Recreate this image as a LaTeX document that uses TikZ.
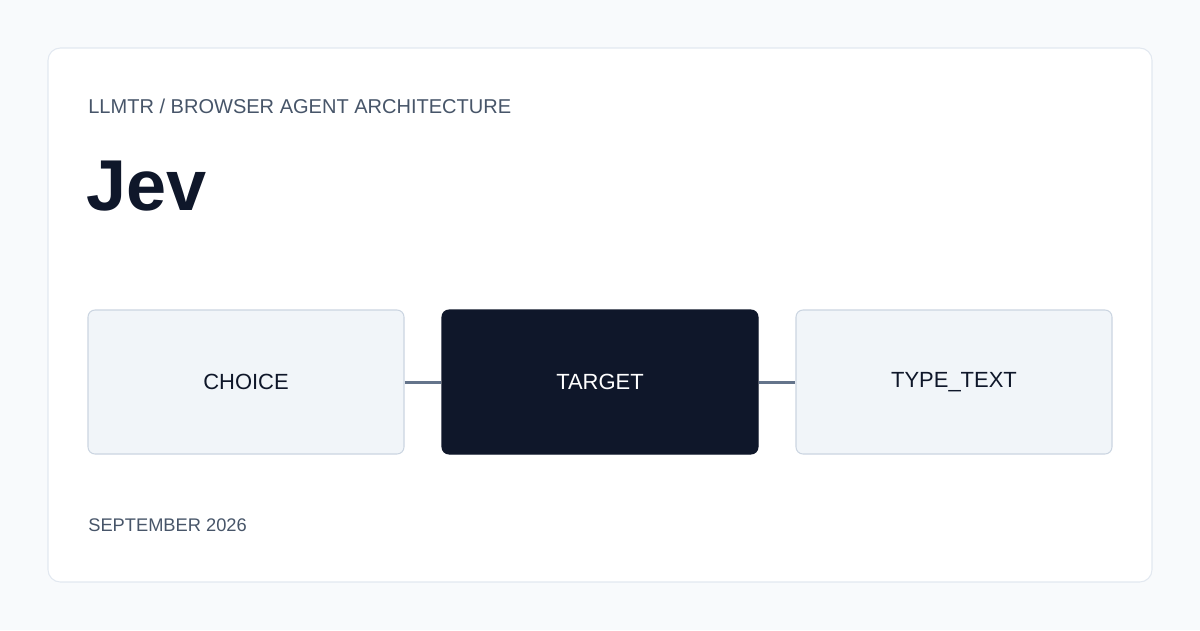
\documentclass[tikz,border=0pt]{standalone}
\usepackage{fontspec}
\setmainfont{Liberation Sans}
\definecolor{pagebg}{HTML}{F8FAFC}
\definecolor{cardline}{HTML}{E2E8F0}
\definecolor{boxfill}{HTML}{F1F5F9}
\definecolor{boxline}{HTML}{CBD5E1}
\definecolor{darkbox}{HTML}{0F172A}
\definecolor{mutedtext}{HTML}{475569}
\definecolor{linkline}{HTML}{64748B}
\tikzset{
  stage/.style={draw=boxline, fill=boxfill, rounded corners=4pt, line width=0.6pt,
    minimum width=316*0.02cm, minimum height=144*0.02cm, inner sep=0pt,
    text=darkbox, font=\fontsize{12.5}{15}\selectfont},
  active/.style={stage, fill=darkbox, draw=darkbox, text=white},
  link/.style={draw=linkline, line width=1.7pt}
}
\begin{document}
\begin{tikzpicture}[x=0.02cm, y=-0.02cm]
		\fill[pagebg] (0,0) rectangle (1200,630);
		\useasboundingbox (0,0) rectangle (1200,630);
		\draw[cardline, fill=white, rounded corners=7pt, line width=0.6pt] (48,48) rectangle (1152,582);
		\node[anchor=west, inner sep=0pt, text=mutedtext, font=\fontsize{11.4}{14}\selectfont] (kicker) at (88,106) {LLMTR / BROWSER AGENT ARCHITECTURE};
		\node[anchor=west, inner sep=0pt, text=darkbox, font=\fontsize{41}{48}\selectfont\bfseries] (title) at (86,186) {Jev};

		\node[stage] (C) at (246,382) {CHOICE};
		\node[active] (T) at (600,382) {TARGET};
		\node[stage] (TT) at (954,382) {TYPE\_TEXT};

		\draw[link] (C) -- (T);
		\draw[link] (T) -- (TT);

		\node[anchor=west, inner sep=0pt, text=mutedtext, font=\fontsize{10.4}{13}\selectfont] (date) at (88,525) {SEPTEMBER 2026};
\end{tikzpicture}
\end{document}
